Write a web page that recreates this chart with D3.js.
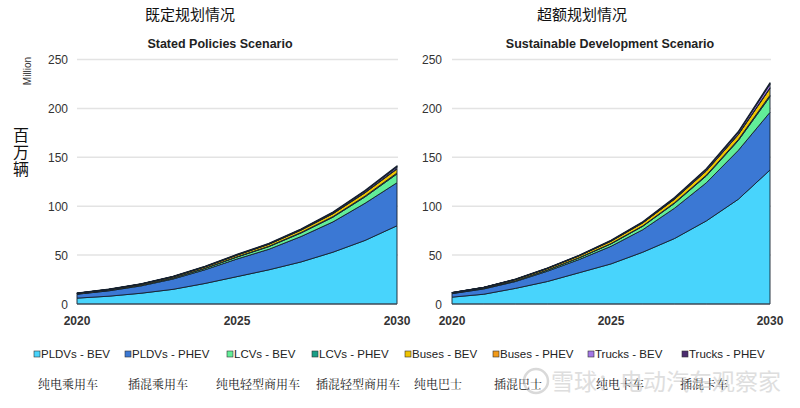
<!DOCTYPE html>
<html><head><meta charset="utf-8">
<script src="https://cdn.jsdelivr.net/npm/d3@7/dist/d3.min.js"></script>
<style>
body{margin:0;background:#fff;}
svg{display:block;}
</style></head>
<body>
<svg id="c" width="800" height="408"></svg>
<script>
const years = [2020,2021,2022,2023,2024,2025,2026,2027,2028,2029,2030];
const seriesNames = ["PLDVs - BEV","PLDVs - PHEV","LCVs - BEV","LCVs - PHEV","Buses - BEV","Buses - PHEV","Trucks - BEV","Trucks - PHEV"];
const seriesCn = ["纯电乘用车","插混乘用车","纯电轻型商用车","插混轻型商用车","纯电巴士","插混巴士","纯电卡车","插混卡车"];
const colors = ["#48d4fc","#3b78d4","#62ee98","#1a9e86","#f0c400","#f29a18","#a377e6","#4b2c6e"];
const yTicks = [0,50,100,150,200,250];
const xTicks = [2020,2025,2030];

// Stated Policies Scenario (million)
const sps_PLDV_BEV   = [6, 8, 11, 15, 21, 28, 35, 43, 53, 65, 80];
const sps_PLDV_PHEV  = [4, 5.5, 7.5, 10.5, 14, 18, 21, 26, 31, 38, 44];
const sps_LCV_BEV    = [0.3, 0.5, 0.7, 1, 1.4, 2, 2.7, 3.6, 4.8, 6.5, 9];
const sps_LCV_PHEV   = [0.05, 0.1, 0.1, 0.15, 0.2, 0.3, 0.4, 0.5, 0.6, 0.8, 1];
const sps_BUS_BEV    = [0.6, 0.8, 1, 1.2, 1.4, 1.7, 2, 2.4, 2.9, 3.4, 4];
const sps_BUS_PHEV   = [0.05, 0.05, 0.1, 0.1, 0.15, 0.2, 0.25, 0.3, 0.4, 0.5, 0.6];
const sps_TRUCK_BEV  = [0.05, 0.1, 0.1, 0.15, 0.2, 0.3, 0.4, 0.6, 0.9, 1.3, 1.8];
const sps_TRUCK_PHEV = [0.02, 0.03, 0.05, 0.07, 0.1, 0.15, 0.2, 0.3, 0.4, 0.6, 0.8];

// Sustainable Development Scenario (million)
const sds_PLDV_BEV   = [7, 10, 16, 23, 32, 41, 53, 67, 85, 107, 137];
const sds_PLDV_PHEV  = [3.6, 5.4, 7, 10.5, 13.5, 18, 23, 31, 39, 50, 59];
const sds_LCV_BEV    = [0.3, 0.5, 0.8, 1.2, 1.7, 2.5, 3.5, 5, 7, 10, 16];
const sds_LCV_PHEV   = [0.05, 0.1, 0.1, 0.15, 0.2, 0.3, 0.4, 0.6, 0.8, 1, 1.5];
const sds_BUS_BEV    = [0.6, 0.9, 1.2, 1.5, 1.9, 2.4, 3, 3.6, 4.3, 5, 7];
const sds_BUS_PHEV   = [0.05, 0.05, 0.1, 0.1, 0.15, 0.2, 0.25, 0.3, 0.4, 0.5, 0.6];
const sds_TRUCK_BEV  = [0.05, 0.1, 0.15, 0.2, 0.3, 0.5, 0.7, 1, 1.4, 2, 4];
const sds_TRUCK_PHEV = [0.02, 0.03, 0.05, 0.08, 0.1, 0.15, 0.2, 0.3, 0.4, 0.6, 0.9];

const spsSeries = [sps_PLDV_BEV,sps_PLDV_PHEV,sps_LCV_BEV,sps_LCV_PHEV,sps_BUS_BEV,sps_BUS_PHEV,sps_TRUCK_BEV,sps_TRUCK_PHEV];
const sdsSeries = [sds_PLDV_BEV,sds_PLDV_PHEV,sds_LCV_BEV,sds_LCV_PHEV,sds_BUS_BEV,sds_BUS_PHEV,sds_TRUCK_BEV,sds_TRUCK_PHEV];

const svg = d3.select("#c");
const FONT = "Liberation Sans, Arial, sans-serif";
const CJK = "Noto Sans CJK SC, sans-serif";

function panel(cfg){
  const g = svg.append("g");
  const x = d3.scaleLinear().domain([2020,2030]).range([cfg.x0,cfg.x1]);
  const y = d3.scaleLinear().domain([0,250]).range([304,59.5]);
  g.selectAll("line.grid").data(yTicks.filter(d=>d>0)).join("line")
    .attr("x1",cfg.x0).attr("x2",cfg.x1+1)
    .attr("y1",d=>y(d)).attr("y2",d=>y(d))
    .attr("stroke","#e3e3e3").attr("stroke-width",1.5);
  const rows = years.map((yr,i)=>{
    const o={year:yr};
    seriesNames.forEach((n,k)=>o[n]=cfg.series[k][i]);
    return o;
  });
  const stacked = d3.stack().keys(seriesNames)(rows);
  const area = d3.area().x(d=>x(d.data.year)).y0(d=>y(d[0])).y1(d=>y(d[1]));
  g.selectAll("path.a").data(stacked).join("path")
    .attr("d",area)
    .attr("fill",(d,i)=>colors[i])
    .attr("stroke","#15202e").attr("stroke-width",(d,i)=>i===seriesNames.length-1?1.3:0.9)
    .attr("stroke-linejoin","round");
  g.append("line").attr("x1",cfg.x0).attr("x2",cfg.x1).attr("y1",y(0)).attr("y2",y(0))
    .attr("stroke","#4a5560").attr("stroke-width",1.2);
  g.selectAll("text.yt").data(yTicks).join("text")
    .attr("x",cfg.yLabX).attr("y",d=>y(d)+4.5)
    .attr("text-anchor","end").attr("font-family",FONT).attr("font-size",12)
    .attr("fill","#333").text(d=>d);
  g.selectAll("text.xt").data(xTicks).join("text")
    .attr("x",d=>x(d)).attr("y",325)
    .attr("text-anchor","middle").attr("font-family",FONT).attr("font-size",12).attr("font-weight","bold")
    .attr("fill","#333").text(d=>d);
  g.append("text").attr("x",cfg.cnX).attr("y",20).attr("text-anchor","middle")
    .attr("font-family",CJK).attr("font-size",15).attr("fill","#111").text(cfg.cn);
  g.append("text").attr("x",cfg.tX).attr("y",48).attr("text-anchor","middle")
    .attr("font-family",FONT).attr("font-size",12.5).attr("font-weight","bold").attr("fill","#222").text(cfg.title);
}

panel({x0:77,x1:397,yLabX:68,series:spsSeries,cn:"既定规划情况",cnX:190,title:"Stated Policies Scenario",tX:220});
panel({x0:452,x1:770,yLabX:442,series:sdsSeries,cn:"超额规划情况",cnX:582,title:"Sustainable Development Scenario",tX:610});

svg.append("text").attr("transform","translate(31,71) rotate(-90)").attr("text-anchor","middle")
  .attr("font-family",FONT).attr("font-size",10).attr("fill","#333").text("Million");
["百","万","辆"].forEach((ch,i)=>{
  svg.append("text").attr("x",21).attr("y",141+i*17).attr("text-anchor","middle")
    .attr("font-family",CJK).attr("font-size",16).attr("fill","#111").text(ch);
});

const legX = [37,128,230,315,408,496,591,685];
const leg = svg.append("g");
seriesNames.forEach((n,i)=>{
  leg.append("rect").attr("x",legX[i]-3).attr("y",351).attr("width",6).attr("height",6)
    .attr("fill",colors[i]).attr("stroke","#333").attr("stroke-width",0.6);
  leg.append("text").attr("x",legX[i]+4).attr("y",358).attr("font-family",FONT).attr("font-size",11.5)
    .attr("fill","#222").text(n);
});
const cnX = [38,128,216,316,414,494,596,680];
seriesCn.forEach((t,i)=>{
  svg.append("text").attr("x",cnX[i]).attr("y",389).attr("font-family","Noto Serif CJK SC, Noto Sans CJK SC, serif")
    .attr("font-size",12).attr("fill","#222").text(t);
});

const wm = svg.append("g").attr("opacity",0.55);
wm.append("circle").attr("cx",536).attr("cy",381).attr("r",12).attr("fill","none").attr("stroke","#bbb").attr("stroke-width",2.5);
wm.append("text").attr("x",551).attr("y",390).attr("font-family",CJK).attr("font-size",23)
  .attr("fill","#c4c4c4").text("雪球：电动汽车观察家");
</script>
</body></html>
